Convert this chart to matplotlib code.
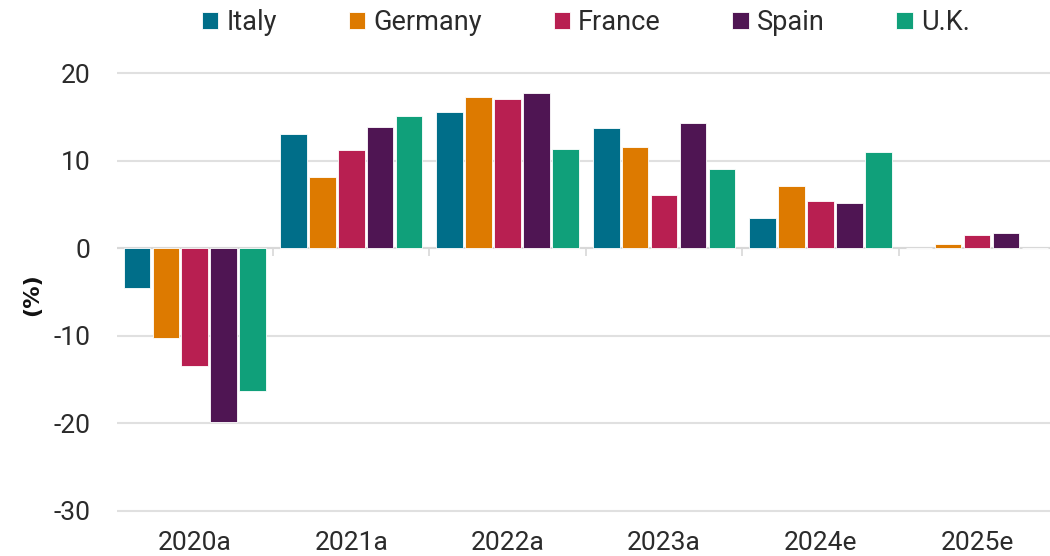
import matplotlib
matplotlib.use("Agg")
import matplotlib.pyplot as plt
import numpy as np

plt.rcParams['font.family'] = ['Roboto', 'DejaVu Sans']
plt.rcParams['axes.unicode_minus'] = False

years = ['2020a', '2021a', '2022a', '2023a', '2024e', '2025e']
italy = [-4.5, 13.1, 15.6, 13.7, 3.5, 0.0]
germany = [-10.3, 8.2, 17.3, 11.6, 7.1, 0.5]
france = [-13.4, 11.2, 17.1, 6.1, 5.4, 1.5]
spain = [-19.8, 13.9, 17.8, 14.3, 5.2, 1.8]
uk = [-16.3, 15.1, 11.3, 9.1, 11.0, 0.0]

series = {'Italy': italy, 'Germany': germany, 'France': france, 'Spain': spain, 'U.K.': uk}
colors = ['#006E89', '#DD7A00', '#B81F51', '#4F1553', '#10A07A']
text_color = '#2b2b2b'

fig = plt.figure(figsize=(10.5, 5.56), dpi=100)
ax = fig.add_axes([0.111, 0.045, 0.894, 0.85])

x = np.arange(len(years))
pitch = 0.185
width = 0.17
for i, (name, vals) in enumerate(series.items()):
    offs = (i - 2) * pitch
    ax.bar(x + offs, vals, width=width, color=colors[i], label=name,
           edgecolor='white', linewidth=0.6, zorder=3)

ax.set_xlim(-0.5, 5.5)
ax.set_ylim(-32.3, 21.7)
ax.set_yticks([-30, -20, -10, 0, 10, 20])
ax.grid(axis='y', color='#e0e0e0', linewidth=1.5, zorder=0)
ax.axhline(0, color='#d8d8d8', linewidth=1.5, zorder=2)

# group separators hanging below the zero line
ax.vlines(x[:-1] + 0.5, -0.9, 0, color='#d8d8d8', linewidth=1.2, zorder=2)

ax.set_xticks(x)
ax.set_xticklabels(years)
ax.tick_params(axis='both', length=0, labelsize=19, colors=text_color)
ax.tick_params(axis='x', pad=0)
ax.tick_params(axis='y', pad=19)

for s in ax.spines.values():
    s.set_visible(False)

ax.set_ylabel('(%)', fontsize=16, fontweight='black', color='#111111', labelpad=8,
              family=['DejaVu Sans'])

leg = fig.legend(loc='upper center', bbox_to_anchor=(0.558, 1.027), ncol=5, frameon=False,
                 fontsize=19.5, handlelength=0.6, handleheight=0.6, handletextpad=0.3,
                 columnspacing=2.65)
for t in leg.get_texts():
    t.set_color(text_color)

fig.savefig('out.png', dpi=100)
